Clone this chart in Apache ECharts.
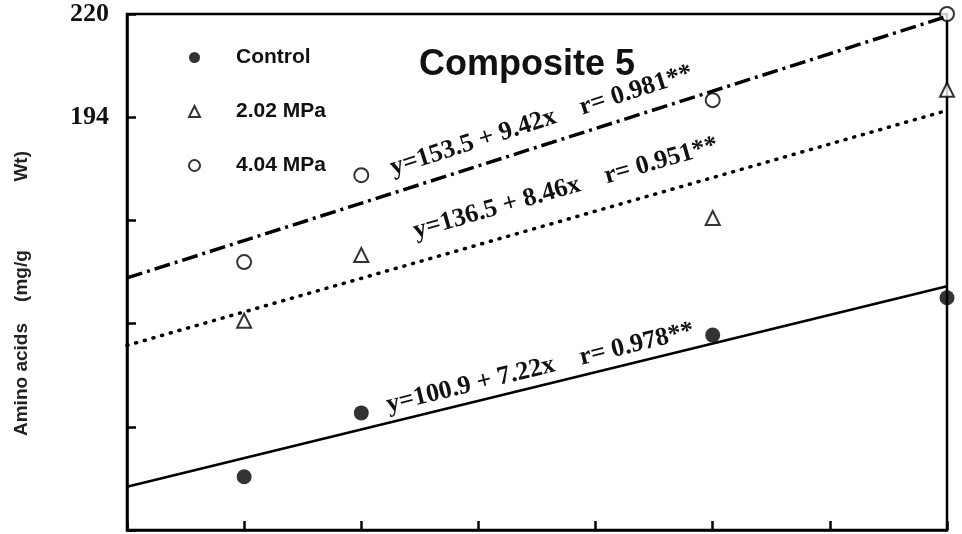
<!DOCTYPE html>
<html>
<head>
<meta charset="utf-8">
<script src="https://cdn.jsdelivr.net/npm/echarts@6/dist/echarts.min.js"></script>
<style>
  html, body { margin: 0; padding: 0; background: #fff; }
  #chart { width: 962px; height: 534px; }
</style>
</head>
<body>
<div id="chart"></div>
<script>
// days / loading steps on x, amino acid content on y
const xValues = [1, 2, 5, 7];
const controlValues = [103.4, 119.5, 139.1, 148.5];
const mpa202Values = [142.7, 159.3, 168.6, 200.9];
const mpa404Values = [157.5, 179.4, 198.3, 220];

// regression lines, value at x = 0 and x = 7
const fitX = [0, 7];
const controlFit = [100.9, 151.4];
const mpa202Fit = [136.5, 195.7];
const mpa404Fit = [153.5, 219.4];

const fitLabels = [
  'y=100.9 + 7.22x    r= 0.978**',
  'y=136.5 + 8.46x    r= 0.951**',
  'y=153.5 + 9.42x    r= 0.981**'
];
// where each equation starts (data coords)
const fitLabelAt = [[2.245, 118.2], [2.48, 162.0], [2.288, 177.9]];

const seriesNames = ['Control', '2.02 MPa', '4.04 MPa'];
const yTickLabels = [194, 220];

const chart = echarts.init(document.getElementById('chart'));

const toPairs = (xs, ys) => xs.map((x, i) => [x, ys[i]]);

const serif = '"Liberation Serif", "DejaVu Serif", serif';
const sans = '"Liberation Sans", Arial, sans-serif';

const option = {
  animation: false,
  backgroundColor: '#fff',
  title: {
    text: 'Composite 5',
    left: 419,
    top: 47,
    padding: 0,
    textStyle: { fontFamily: sans, fontSize: 36, fontWeight: 'bold', color: '#111' }
  },
  legend: {
    orient: 'vertical',
    left: 188,
    top: 47,
    padding: 0,
    itemWidth: 11,
    itemHeight: 11,
    itemGap: 33,
    textStyle: { fontFamily: sans, fontSize: 21, fontWeight: 'bold', color: '#111', padding: [0, 0, 0, 31] },
    data: [
      { name: seriesNames[0], icon: 'circle', itemStyle: { color: '#000', borderWidth: 0 } },
      { name: seriesNames[1], icon: 'emptyTriangle', itemStyle: { color: '#000', borderColor: '#000', borderWidth: 2 } },
      { name: seriesNames[2], icon: 'emptyCircle', itemStyle: { color: '#000', borderColor: '#000', borderWidth: 2 } }
    ]
  },
  grid: {
    left: 127,
    top: 14,
    right: 15,
    bottom: 4,
    show: true,
    borderColor: '#000',
    borderWidth: 2.5,
    backgroundColor: '#fff'
  },
  xAxis: {
    type: 'value',
    min: 0,
    max: 7,
    interval: 1,
    axisLine: { lineStyle: { color: '#000', width: 2.5 } },
    axisTick: { inside: true, length: 9, lineStyle: { color: '#000', width: 2.5 } },
    axisLabel: { show: false },
    splitLine: { show: false }
  },
  yAxis: {
    type: 'value',
    min: 90,
    max: 220,
    interval: 26,
    name: 'Amino acids    (mg/g             Wt)',
    nameLocation: 'middle',
    nameGap: 96,
    nameTextStyle: { fontFamily: sans, fontSize: 19, fontWeight: 'bold', color: '#222', padding: [0, 43, 0, 0] },
    axisLine: { show: true, lineStyle: { color: '#000', width: 2.5 } },
    axisTick: { inside: true, length: 9, lineStyle: { color: '#000', width: 2.5 } },
    axisLabel: {
      margin: 18,
      fontFamily: serif,
      fontSize: 26,
      fontWeight: 'bold',
      color: '#111',
      formatter: (v) => (yTickLabels.includes(v) ? String(v) : '')
    },
    splitLine: { show: false }
  },
  series: [
    {
      name: 'control fit',
      type: 'line',
      data: toPairs(fitX, controlFit),
      symbol: 'none',
      lineStyle: { color: '#000', width: 2.5 }
    },
    {
      name: '2.02 fit',
      type: 'line',
      data: toPairs(fitX, mpa202Fit),
      symbol: 'none',
      lineStyle: { color: '#000', width: 3.5, type: [1, 8], cap: 'round' }
    },
    {
      name: '4.04 fit',
      type: 'line',
      data: toPairs(fitX, mpa404Fit),
      symbol: 'none',
      lineStyle: { color: '#000', width: 3.5, type: [16, 5, 3, 5] }
    },
    {
      name: seriesNames[0],
      type: 'scatter',
      clip: false,
      symbol: 'circle',
      symbolSize: 15,
      itemStyle: { color: '#000' },
      data: toPairs(xValues, controlValues)
    },
    {
      name: seriesNames[1],
      type: 'scatter',
      clip: false,
      symbol: 'emptyTriangle',
      symbolSize: 14,
      itemStyle: { color: '#000', borderWidth: 2 },
      data: toPairs(xValues, mpa202Values)
    },
    {
      name: seriesNames[2],
      type: 'scatter',
      clip: false,
      symbol: 'emptyCircle',
      symbolSize: 14,
      itemStyle: { color: '#000', borderWidth: 2 },
      data: toPairs(xValues, mpa404Values)
    }
  ]
};

chart.setOption(option);

// equation labels follow the slope of their line on screen
const fits = [controlFit, mpa202Fit, mpa404Fit];
const labels = fits.map((fit, i) => {
  const p0 = chart.convertToPixel({ gridIndex: 0 }, [fitX[0], fit[0]]);
  const p1 = chart.convertToPixel({ gridIndex: 0 }, [fitX[1], fit[1]]);
  const angle = Math.atan2(p0[1] - p1[1], p1[0] - p0[0]);
  const at = chart.convertToPixel({ gridIndex: 0 }, fitLabelAt[i]);
  return {
    type: 'text',
    x: at[0],
    y: at[1],
    rotation: angle,
    style: {
      text: fitLabels[i],
      fontFamily: serif,
      fontSize: 26,
      fontWeight: 'bold',
      fill: '#111',
      textVerticalAlign: 'bottom'
    },
    z: 10
  };
});

chart.setOption({ graphic: labels });
</script>
</body>
</html>
